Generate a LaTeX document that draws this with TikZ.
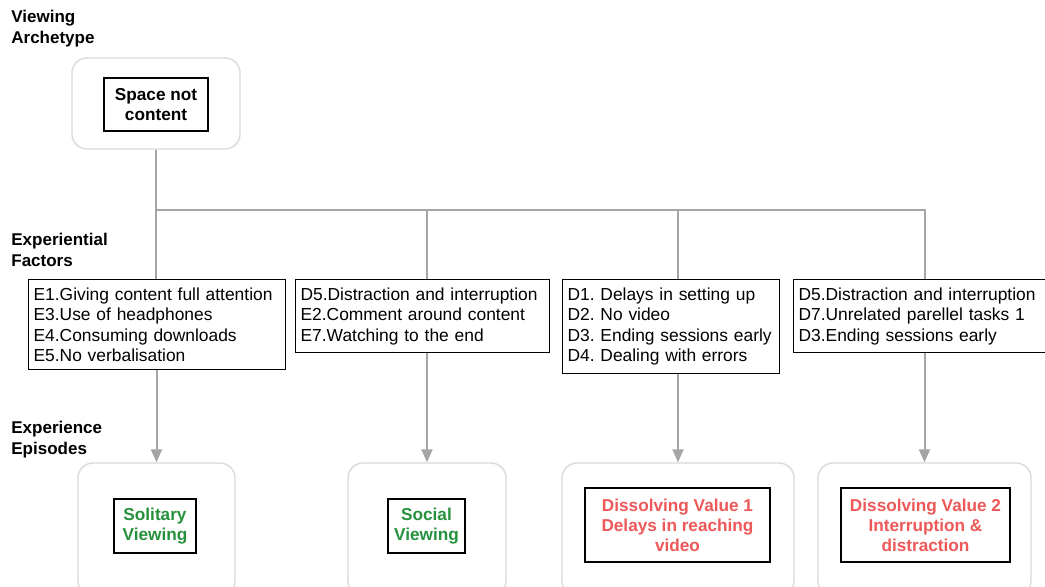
\documentclass[tikz,border=0pt]{standalone}
\usepackage{fontspec}
\setmainfont{Liberation Sans}
\usetikzlibrary{arrows.meta}
\definecolor{linegray}{RGB}{165,165,165}
\definecolor{framegray}{RGB}{218,218,218}
\definecolor{goodgreen}{RGB}{38,145,60}
\definecolor{badred}{RGB}{238,88,88}
\frenchspacing

\begin{document}
\begin{tikzpicture}
  [x=0.5pt,y=-0.5pt,
  heading/.style={anchor=north west,inner sep=0pt,align=left,
    font=\fontsize{8.5}{10.5}\selectfont\bfseries},
  holder/.style={draw=framegray,line width=0.7pt,rounded corners=7.5pt,fill=white},
  label box/.style={draw=black,line width=0.7pt,fill=white,inner sep=0pt,align=center,
    font=\fontsize{8.6}{10}\selectfont\bfseries},
  factor/.style={draw=black,line width=0.6pt,fill=white,anchor=north west,align=left,
    inner xsep=2.5pt,inner ysep=4pt,font=\fontsize{8.7}{10.25}\selectfont},
  link/.style={draw=linegray,line width=1pt},
  flow/.style={link,-{Triangle[width=5.5pt,length=6.5pt]}}]
  \fill[white] (0,0) rectangle (1045,586);
  \useasboundingbox (0,0) rectangle (1045,586);

  \node[heading] (archlabel) at (11,10) {Viewing\\Archetype};
  \node[heading] (factorlabel) at (11,233) {Experiential\\Factors};
  \node[heading] (episodelabel) at (11,421) {Experience\\Episodes};

  \node[holder,minimum width=84pt,minimum height=45.5pt] (arch) at (156,103.5) {};
  \node[label box,minimum width=52pt,minimum height=26.5pt] (archbox) at (156,104.5)
    {Space not\\content};

  \node[factor,text width=123.5pt] (fac1) at (28,279)
    {E1.Giving content full attention\\E3.Use of headphones\\E4.Consuming downloads\\E5.No verbalisation};
  \node[factor,text width=122pt] (fac2) at (295,279)
    {D5.Distraction and interruption\\E2.Comment around content\\E7.Watching to the end};
  \node[factor,text width=103.5pt] (fac3) at (562,279)
    {D1. Delays in setting up\\D2. No video\\D3. Ending sessions early\\D4. Dealing with errors};
  \node[factor,text width=126pt] (fac4) at (793,279)
    {D5.Distraction and interruption\\D7.Unrelated parellel tasks 1\\D3.Ending sessions early};

  \node[holder,minimum width=78.5pt,minimum height=66.5pt] (epi1) at (156.5,529.5) {};
  \node[holder,minimum width=79pt,minimum height=66.5pt] (epi2) at (427,529.5) {};
  \node[holder,minimum width=116pt,minimum height=66.5pt] (epi3) at (678,529.5) {};
  \node[holder,minimum width=106.5pt,minimum height=66.5pt] (epi4) at (924.5,529.5) {};

  \node[label box,text=goodgreen,minimum width=41pt,minimum height=27pt] (epi1box) at (155,526)
    {Solitary\\Viewing};
  \node[label box,text=goodgreen,minimum width=38.5pt,minimum height=27pt] (epi2box) at (426.5,526)
    {Social\\Viewing};
  \node[label box,text=badred,minimum width=92.5pt,minimum height=37pt] (epi3box) at (677.5,525)
    {Dissolving Value 1\\ Delays in reaching\\video};
  \node[label box,text=badred,minimum width=84.5pt,minimum height=37pt] (epi4box) at (925.5,525)
    {Dissolving Value 2\\Interruption \&\\distraction};

  \coordinate (spine) at (0,210);
  \draw[link] (arch.south) -- (arch.south |- fac1.north);
  \draw[link] (arch.south |- spine) -- (spine -| epi4.north) -- (epi4.north |- fac4.north);
  \draw[link] (spine -| epi2.north) -- (epi2.north |- fac2.north);
  \draw[link] (spine -| epi3.north) -- (epi3.north |- fac3.north);
  \foreach \i in {1,...,4}
    \draw[flow] (epi\i.north |- fac\i.south) -- (epi\i.north);
\end{tikzpicture}
\end{document}
